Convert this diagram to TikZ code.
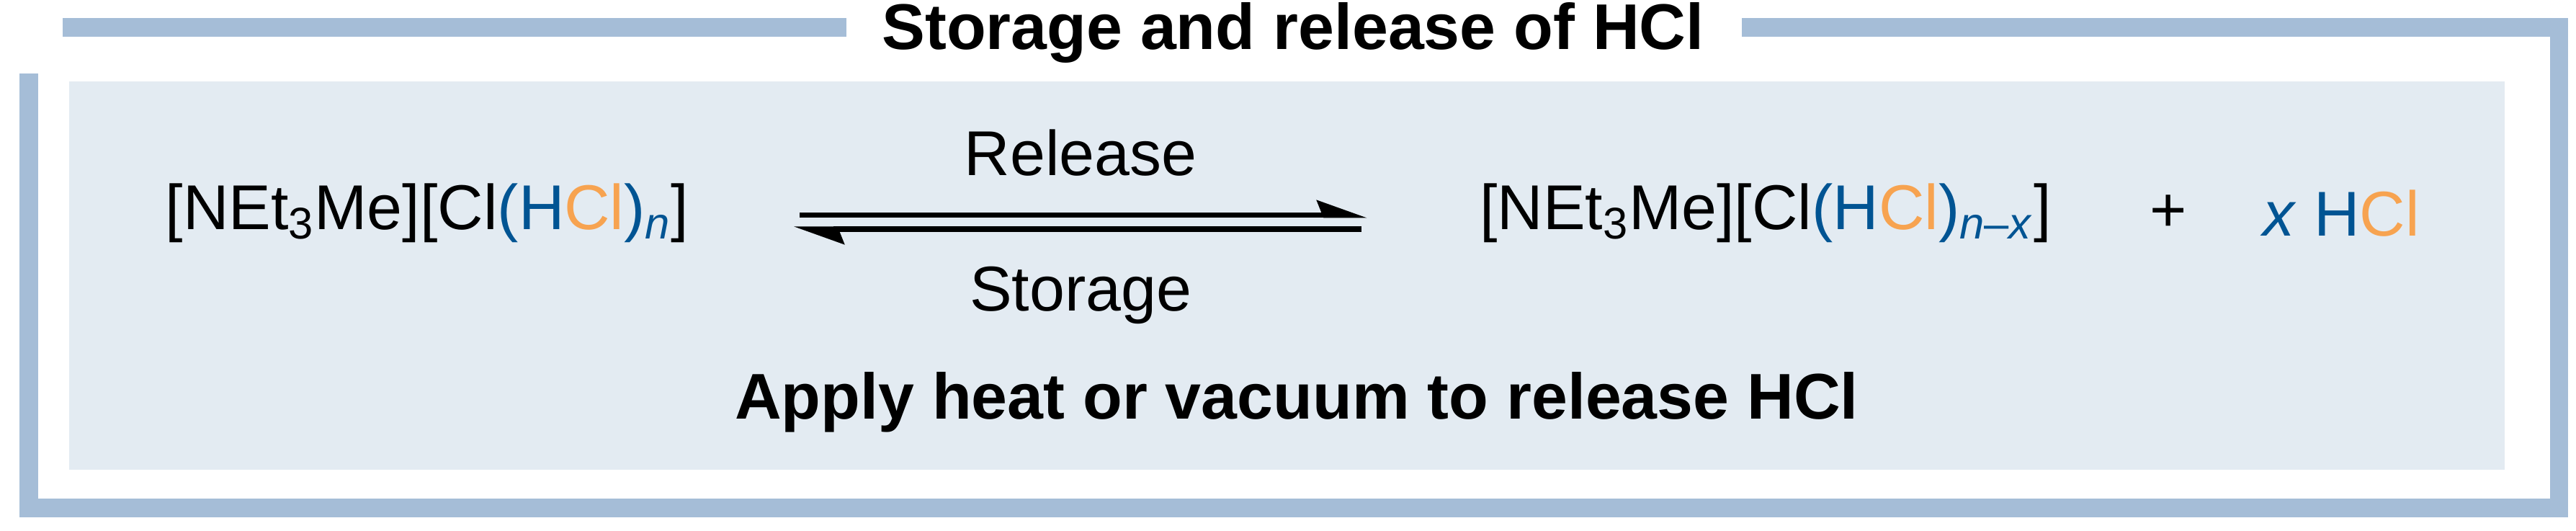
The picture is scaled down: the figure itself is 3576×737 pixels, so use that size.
\documentclass[tikz,border=0pt]{standalone}
\usepackage{fontspec}
\setmainfont{Liberation Sans}
\usetikzlibrary{arrows.meta}
\definecolor{framec}{RGB}{165,189,215}
\definecolor{panelc}{RGB}{227,235,242}
\definecolor{hblue}{RGB}{0,84,147}
\definecolor{clorange}{RGB}{247,163,80}
\newcommand{\Hc}{\textcolor{hblue}{H}}
\newcommand{\Clc}{\textcolor{clorange}{Cl}}
\begin{document}
\begin{tikzpicture}[x=0.01cm,y=-0.01cm,
every node/.style={font=\fontsize{25}{30}\selectfont, inner sep=0pt},
boldtext/.style={font=\fontsize{25.5}{30}\selectfont\bfseries},
framebar/.style={framec, line width=0.25cm},
harpoon/.style={line width=0.07cm, -{Stealth[left,length=0.6cm,width=0.42cm,inset=0.08cm]}}]
\useasboundingbox (0,0) rectangle (3576,737);
% frame and panel
\fill[panelc] (96,113) rectangle (3477,652);
\draw[framebar] (87,38) -- (1175,38);
\draw[framebar] (2418,38) -- (3552,38) -- (3552,705) -- (40,705) -- (40,102);
\node[boldtext] (title) at (1795,46) {Storage and release of HCl};
% species
\node (left) at (593,296) {[NEt\textsubscript{3}Me][Cl\textcolor{hblue}{(}\Hc\Clc\textcolor{hblue}{)\textsubscript{\textit{n}}}]};
\node (right) at (2451,296) {[NEt\textsubscript{3}Me][Cl\textcolor{hblue}{(}\Hc\Clc\textcolor{hblue}{)\textsubscript{\textit{n}--\textit{x}}}]};
\node (plus) at (3010,296) {+};
\node (hcl) at (3250,296) {\textcolor{hblue}{\textit{x}} \Hc\Clc};
% equilibrium arrows
\coordinate (a1) at (1110,299);
\coordinate (a2) at (1898,299);
\coordinate (b1) at (1890,318);
\coordinate (b2) at (1102,318);
\draw[harpoon] (a1) -- (a2);
\draw[harpoon] (b1) -- (b2);
\node (release) at (1500,212) {Release};
\node (storage) at (1500,410) {Storage};
\node[boldtext] (note) at (1800,558) {Apply heat or vacuum to release HCl};
\end{tikzpicture}
\end{document}
